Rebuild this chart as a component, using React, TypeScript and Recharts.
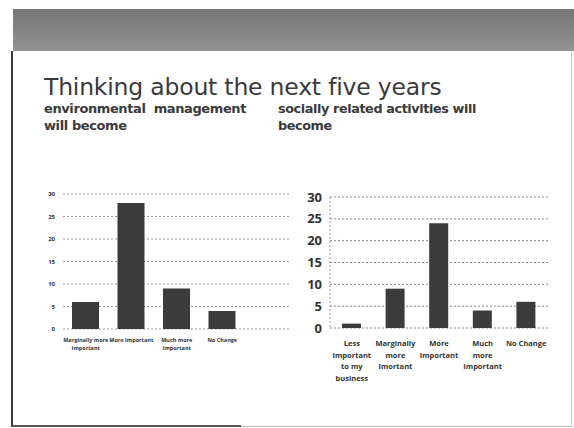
import React from "react";
import { BarChart, Bar, XAxis, YAxis, CartesianGrid } from "recharts";

const envCategories = ["Marginally more|Important", "More Important", "Much more|Important", "No Change"];
const envValues = [6, 28, 9, 4];

const socCategories = ["Less|Important|to my|business", "Marginally|more|Imortant", "More|Important", "Much|more|Important", "No Change"];
const socValues = [1, 9, 24, 4, 6];

const yTicks = [0, 5, 10, 15, 20, 25, 30];

const envData = envCategories.map((c, i) => ({ name: c, value: envValues[i] }));
const socData = socCategories.map((c, i) => ({ name: c, value: socValues[i] }));

const BAR = "#3b3b3b";
const FONT = "'Open Sans', 'DejaVu Sans', sans-serif";

function makeTick(fontSize: number, lineH: number, dy: number) {
  return (props: any) => {
    const { x, y, payload } = props;
    const lines = String(payload.value).split("|");
    return (
      <text x={x} y={y + dy} textAnchor="middle" fontSize={fontSize} fontWeight={700} fill="#333" fontFamily={FONT}>
        {lines.map((l, i) => (
          <tspan key={i} x={x} dy={i === 0 ? 0 : lineH}>
            {l}
          </tspan>
        ))}
      </text>
    );
  };
}

export default function App() {
  return (
    <div style={{ position: "absolute", left: 0, top: 0, width: 574, height: 428, background: "#fff", overflow: "hidden", fontFamily: FONT }}>
      {/* header band */}
      <div style={{ position: "absolute", left: 13, top: 9, width: 561, height: 42, background: "linear-gradient(#767676, #878787 60%, #949494)" }} />
      {/* frame lines */}
      <div style={{ position: "absolute", left: 11, top: 51, width: 2, height: 376, background: "#3c3c3c" }} />
      <div style={{ position: "absolute", left: 11, top: 425, width: 230, height: 2, background: "#555" }} />
      <div style={{ position: "absolute", left: 241, top: 426, width: 330, height: 1, background: "#bbb" }} />
      <div style={{ position: "absolute", left: 571, top: 51, width: 1, height: 376, background: "#ccc" }} />

      <div style={{ position: "absolute", left: 44, top: 76, fontSize: 23.5, lineHeight: "23px", color: "#3a3a3a", fontFamily: "'DejaVu Sans', sans-serif", whiteSpace: "nowrap", letterSpacing: -0.2 }}>
        Thinking about the next five years
      </div>
      <div style={{ position: "absolute", left: 44, top: 100, fontSize: 13, fontWeight: 700, color: "#3a3a3a", lineHeight: "17px", fontFamily: "'DejaVu Sans', sans-serif", letterSpacing: -0.4, whiteSpace: "nowrap" }}>
        environmental&nbsp; management
        <br />
        will become
      </div>
      <div style={{ position: "absolute", left: 278, top: 100, fontSize: 12.8, fontWeight: 700, color: "#3a3a3a", lineHeight: "17px", fontFamily: "'DejaVu Sans', sans-serif", letterSpacing: -0.4, whiteSpace: "nowrap" }}>
        socially related activities will
        <br />
        become
      </div>

      <div style={{ position: "absolute", left: 30, top: 180 }}>
        <BarChart width={265} height={200} data={envData} margin={{ top: 14, right: 5, bottom: 11, left: 0 }} barSize={27}>
          <CartesianGrid vertical={false} stroke="#999" strokeDasharray="2 2" />
          <XAxis
            dataKey="name"
            axisLine={false}
            tickLine={false}
            interval={0}
            height={40}
            padding={{ left: 0, right: 45 }}
            tick={makeTick(5.5, 8, 5)}
          />
          <YAxis
            width={33}
            domain={[0, 30]}
            ticks={yTicks}
            interval={0}
            axisLine={false}
            tickLine={false}
            tick={{ fontSize: 6, fontWeight: 700, fill: "#333", fontFamily: FONT }}
          />
          <Bar dataKey="value" fill={BAR} isAnimationActive={false} />
        </BarChart>
      </div>

      <div style={{ position: "absolute", left: 290, top: 180 }}>
        <BarChart width={265} height={215} data={socData} margin={{ top: 17, right: 7, bottom: 17, left: 0 }} barSize={19}>
          <CartesianGrid vertical={false} stroke="#888" strokeDasharray="2 2" />
          <XAxis
            dataKey="name"
            axisLine={false}
            tickLine={false}
            interval={0}
            height={50}
            tick={makeTick(7.5, 11.5, 10)}
          />
          <YAxis
            width={40}
            domain={[0, 30]}
            ticks={yTicks}
            interval={0}
            axisLine={{ stroke: "#999", strokeDasharray: "2 2" }}
            tickLine={false}
            tick={{ fontSize: 13, fontWeight: 700, fill: "#333", fontFamily: FONT }}
          />
          <Bar dataKey="value" fill={BAR} isAnimationActive={false} />
        </BarChart>
      </div>
    </div>
  );
}
